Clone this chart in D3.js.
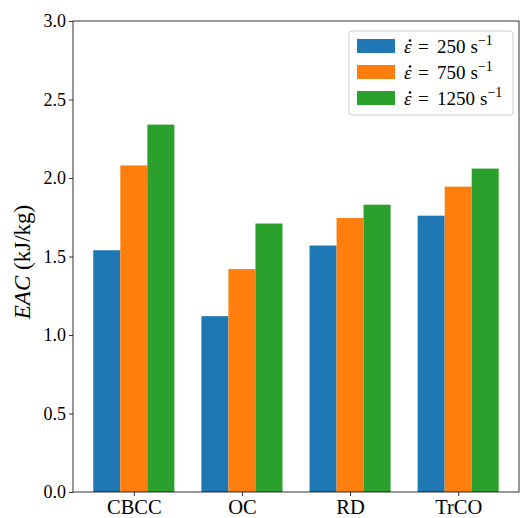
<!DOCTYPE html>
<html><head><meta charset="utf-8">
<script src="https://cdn.jsdelivr.net/npm/d3@7"></script>
<style>body{margin:0;background:#fff}svg{display:block}text{font-family:"Liberation Serif","DejaVu Serif",serif}</style>
</head><body><svg id="c" width="520" height="518"></svg>
<script>
const categories = ["CBCC","OC","RD","TrCO"];
const seriesNames = ["250","750","1250"];
const rate250 = [1.54, 1.12, 1.57, 1.76];
const rate750 = [2.08, 1.42, 1.745, 1.945];
const rate1250 = [2.34, 1.71, 1.83, 2.06];
const colors = ["#1f77b4","#ff7f0e","#2ca02c"];
const yTicks = [0,0.5,1.0,1.5,2.0,2.5,3.0];
const series = [rate250, rate750, rate1250];

const svg = d3.select("#c");
const L=73, R=519, T=21, B=492;
const x = d3.scaleLinear().domain([-0.5625,3.5625]).range([L,R]);
const y = d3.scaleLinear().domain([0,3]).range([B,T]);
const w = 0.25;

series.forEach((vals,si)=>{
  svg.append("g").selectAll("rect").data(vals).join("rect")
    .attr("x",(d,i)=>x(i+(si-1)*w-w/2))
    .attr("width",(d,i)=>x(i+(si-1)*w+w/2)-x(i+(si-1)*w-w/2))
    .attr("y",d=>y(d)).attr("height",d=>y(0)-y(d))
    .attr("fill",colors[si]);
});

const ya = svg.append("g").attr("transform",`translate(${L},0)`)
  .call(d3.axisLeft(y).tickValues(yTicks).tickFormat(d3.format(".1f")).tickSize(4).tickPadding(3));
const xa = svg.append("g").attr("transform",`translate(0,${B})`)
  .call(d3.axisBottom(x).tickValues([0,1,2,3]).tickFormat(i=>categories[i]).tickSize(4).tickPadding(3));
[ya,xa].forEach(a=>{a.select(".domain").remove();a.selectAll("line").attr("stroke","#000").attr("stroke-width",0.8);
  a.selectAll("text").attr("fill","#000").style("font-size","18px");});
xa.selectAll("text").style("font-size","20.5px");
svg.append("rect").attr("x",L).attr("y",T).attr("width",R-L).attr("height",B-T)
  .attr("fill","none").attr("stroke","#000").attr("stroke-width",0.8);

svg.append("text").attr("transform",`translate(30,262) rotate(-90)`)
  .attr("text-anchor","middle").style("font-size","23px")
  .call(t=>{t.append("tspan").style("font-style","italic").text("EAC");t.append("tspan").text(" (kJ/kg)");});

const lg = svg.append("g");
lg.append("rect").attr("x",349).attr("y",31).attr("width",164).attr("height",84).attr("rx",3)
  .attr("fill","#fff").attr("fill-opacity",0.8).attr("stroke","#ccc").attr("stroke-width",1);
seriesNames.forEach((s,i)=>{
  const yy = 39+i*26;
  lg.append("rect").attr("x",357).attr("y",yy).attr("width",38).attr("height",14).attr("fill",colors[i]);
  lg.append("text").attr("x",404).attr("y",yy+14).style("font-size","19px").style("font-style","italic").text("ε");
  lg.append("circle").attr("cx",410).attr("cy",yy+1.5).attr("r",1.3).attr("fill","#000");
  const t = lg.append("text").attr("x",418).attr("y",yy+14).style("font-size","19px");
  t.append("tspan").text("=");
  t.append("tspan").attr("x",437).text(s);
  t.append("tspan").attr("dx",5).text("s");
  t.append("tspan").attr("dy",-8).style("font-size","14px").text("−1");
});
</script></body></html>
